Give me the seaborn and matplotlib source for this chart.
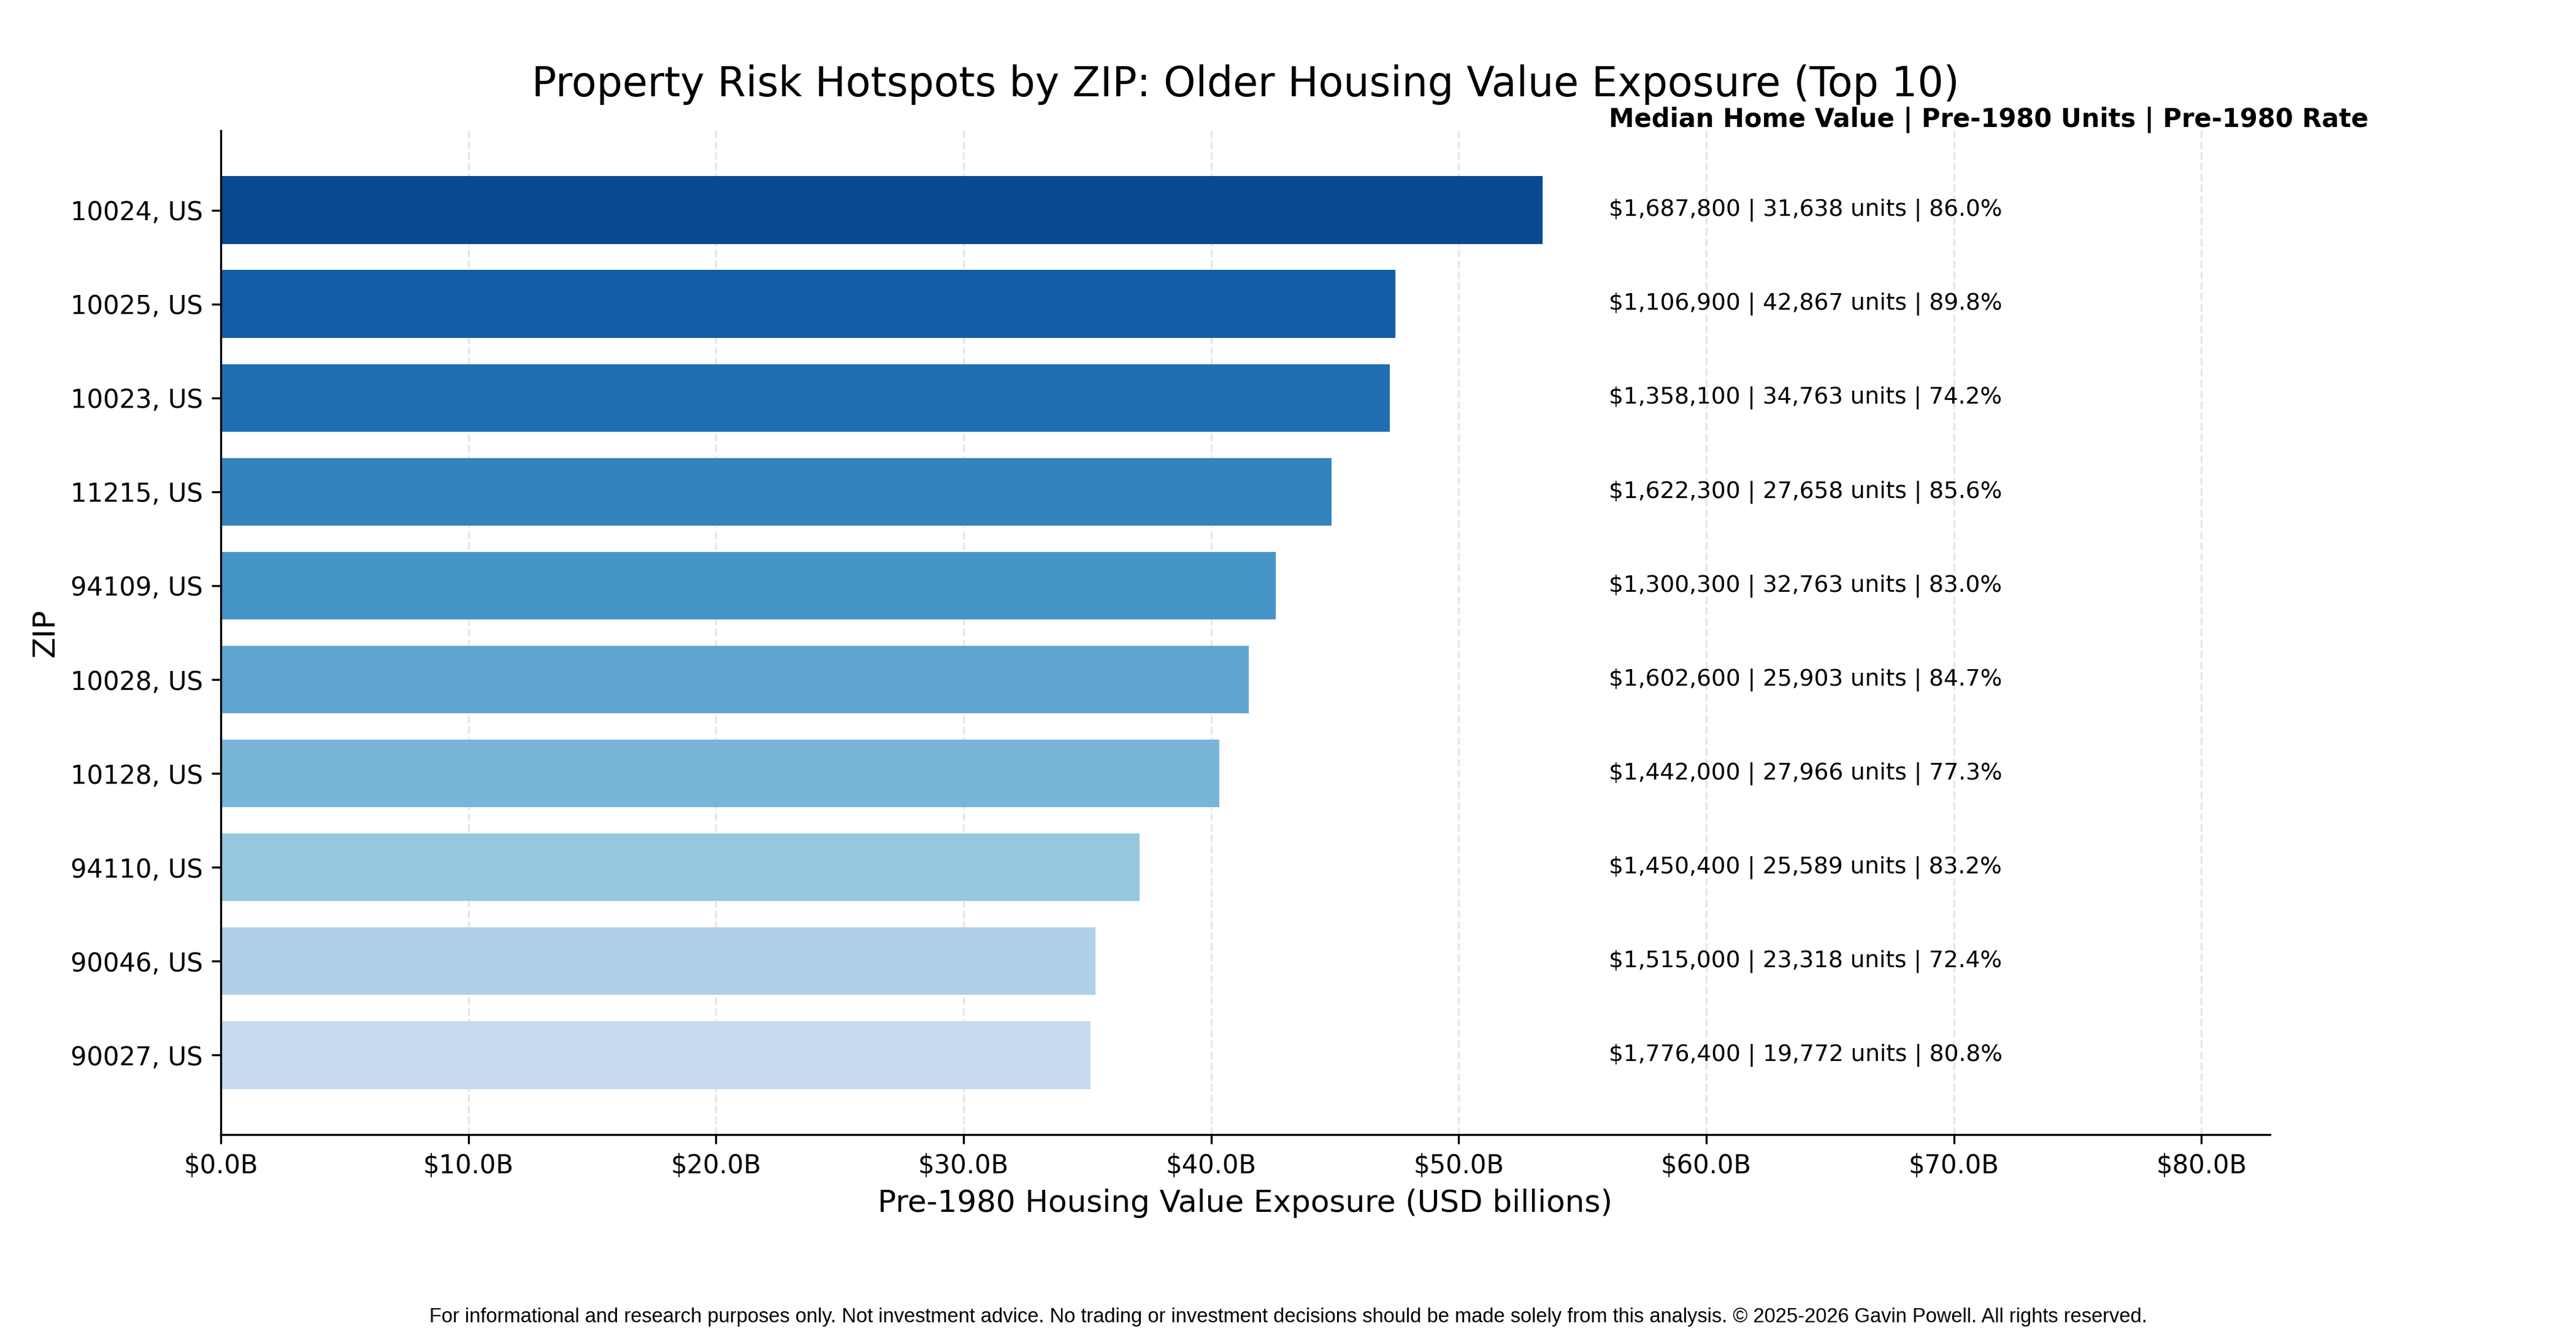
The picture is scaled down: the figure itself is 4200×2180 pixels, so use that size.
import matplotlib
matplotlib.use("Agg")
import matplotlib.pyplot as plt
import seaborn as sns
import numpy as np
import pandas as pd

zips = ["10024, US", "10025, US", "10023, US", "11215, US", "94109, US",
        "10028, US", "10128, US", "94110, US", "90046, US", "90027, US"]
exposure_b = [53.40, 47.45, 47.21, 44.87, 42.60, 41.51, 40.33, 37.11, 35.33, 35.12]
median_value = [1687800, 1106900, 1358100, 1622300, 1300300,
                1602600, 1442000, 1450400, 1515000, 1776400]
pre1980_units = [31638, 42867, 34763, 27658, 32763, 25903, 27966, 25589, 23318, 19772]
pre1980_rate = [86.0, 89.8, 74.2, 85.6, 83.0, 84.7, 77.3, 83.2, 72.4, 80.8]

sns.set_style("ticks", {"axes.edgecolor": "black", "xtick.color": "black",
                        "ytick.color": "black", "text.color": "black",
                        "axes.labelcolor": "black"})
plt.rcParams["font.family"] = ["DejaVu Sans"]

df = pd.DataFrame({"zip": zips, "exposure": exposure_b})
colors = [plt.get_cmap("Blues")(v) for v in np.linspace(0.9, 0.25, len(zips))]

fig = plt.figure(figsize=(14, 7.2667), dpi=300)
ax = fig.add_axes([0.0857, 0.1514, 0.8812 - 0.0857, 0.9023 - 0.1514])

sns.barplot(data=df, x="exposure", y="zip", hue="zip", palette=colors,
            legend=False, orient="h", width=0.72, saturation=1, ax=ax,
            edgecolor="none", linewidth=0)

xmax = max(exposure_b)
ax.set_xlim(0, xmax * 1.55)
ax.set_ylim(len(zips) - 1 + 0.36 + 0.486, -0.36 - 0.486)

ax.set_xticks(np.arange(0, 81, 10))
ax.set_xticklabels([f"${v:.1f}B" for v in np.arange(0, 81, 10)], fontsize=10)
ax.tick_params(axis="y", labelsize=10)
ax.tick_params(axis="both", length=3.5, width=0.8, colors="black")

ax.xaxis.grid(True, linestyle="--", linewidth=0.8, color="#e6e6e6")
ax.set_axisbelow(True)
sns.despine(ax=ax)
for s in ["left", "bottom"]:
    ax.spines[s].set_linewidth(0.8)
    ax.spines[s].set_color("black")

tx = xmax * 1.05
for i in range(len(zips)):
    ax.text(tx, i, f"${median_value[i]:,} | {pre1980_units[i]:,} units | {pre1980_rate[i]:.1f}%",
            va="center", ha="left", fontsize=9)
ax.text(tx, -0.96, "Median Home Value | Pre-1980 Units | Pre-1980 Rate",
        va="center", ha="left", fontsize=10, fontweight="bold")

ax.set_xlabel("Pre-1980 Housing Value Exposure (USD billions)", fontsize=12)
ax.set_ylabel("ZIP", fontsize=12)
ax.set_title("Property Risk Hotspots by ZIP: Older Housing Value Exposure (Top 10)",
             fontsize=16, pad=13.4)

fig.text(0.5, 0.015,
         "For informational and research purposes only. Not investment advice. No trading or investment decisions should be made solely from this analysis. © 2025-2026 Gavin Powell. All rights reserved.",
         ha="center", va="center", fontsize=7.85, family=["Liberation Sans", "DejaVu Sans"])

fig.savefig("out.png", dpi=300)
